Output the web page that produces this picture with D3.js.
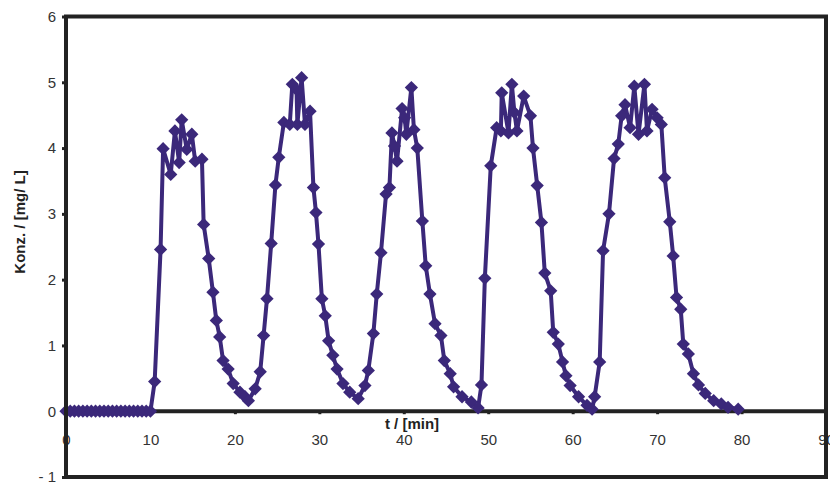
<!DOCTYPE html>
<html>
<head>
<meta charset="utf-8">
<script src="https://cdn.jsdelivr.net/npm/d3@7"></script>
<style>
  body { margin: 0; background: #fff; }
  text { font-family: "Liberation Sans", Arial, sans-serif; }
</style>
</head>
<body>
<div id="chart"></div>
<script>
// time in minutes
const timeMin = [
  0, 0.5, 1, 1.5, 2, 2.5, 3, 3.5, 4, 4.5, 5, 5.5, 6, 6.5, 7, 7.5, 8, 8.5, 9, 9.5, 10,
  10.5, 11.2, 11.5, 12.4, 12.9, 13.4, 13.7, 14.3, 14.9, 15.3, 16.1, 16.3, 16.9, 17.4, 17.8,
  18.2, 18.6, 19.2, 19.8, 20.6, 21.2, 21.6,
  22.4, 23.0, 23.4, 23.8, 24.3, 24.8, 25.2, 25.8, 26.5, 26.8, 27.3, 27.4, 27.9, 28.3, 28.9,
  29.3, 29.6, 29.9, 30.3, 30.7, 31.1, 31.6, 32.1, 32.8, 33.6, 34.6,
  35.4, 35.8, 36.4, 36.8, 37.3, 37.9, 38.3, 38.6, 38.9, 39.2, 39.8, 40.1, 40.3, 40.9, 41.2,
  41.6, 42.2, 42.6, 43.1, 43.7, 44.4, 44.8, 45.5, 45.9, 46.9, 48.0, 48.8,
  49.2, 49.6, 50.3, 51.0, 51.5, 51.6, 52.4, 52.8, 53.1, 53.4, 54.2, 55.0, 55.3, 55.8, 56.3,
  56.7, 57.4, 57.7, 58.3, 58.8, 59.2, 59.7, 60.7, 61.7, 62.3,
  62.6, 63.2, 63.6, 64.3, 64.9, 65.4, 65.8, 66.2, 66.8, 67.3, 67.8, 68.5, 68.8, 69.4, 70.0,
  70.5, 70.9, 71.5, 71.9, 72.3, 72.8, 73.1, 73.7, 74.3, 74.9, 75.7, 76.7, 77.6, 78.4, 79.6
]
// concentration in mg/L
const konz = [
  0, 0, 0, 0, 0, 0, 0, 0, 0, 0, 0, 0, 0, 0, 0, 0, 0, 0, 0, 0, 0,
  0.45, 2.46, 3.99, 3.6, 4.26, 3.78, 4.43, 3.98, 4.21, 3.8, 3.83, 2.84, 2.32, 1.81, 1.38,
  1.13, 0.77, 0.64, 0.42, 0.29, 0.22, 0.16,
  0.34, 0.6, 1.15, 1.71, 2.55, 3.44, 3.86, 4.39, 4.36, 4.97, 4.89, 4.36, 5.07, 4.36, 4.56,
  3.4, 3.02, 2.54, 1.71, 1.45, 1.07, 0.85, 0.64, 0.42, 0.29, 0.19,
  0.39, 0.62, 1.18, 1.78, 2.41, 3.3, 3.4, 4.23, 4.03, 3.8, 4.6, 4.46, 4.21, 4.92, 4.28,
  4.0, 2.89, 2.21, 1.78, 1.33, 1.15, 0.77, 0.57, 0.37, 0.22, 0.14, 0.05,
  0.4, 2.02, 3.73, 4.31, 4.26, 4.84, 4.23, 4.97, 4.54, 4.26, 4.79, 4.49, 4.0, 3.43, 2.87,
  2.1, 1.83, 1.2, 1.02, 0.75, 0.54, 0.39, 0.22, 0.09, 0.03,
  0.22, 0.75, 2.44, 3.0, 3.84, 4.06, 4.49, 4.66, 4.31, 4.94, 4.21, 4.97, 4.26, 4.59, 4.46,
  4.36, 3.55, 2.88, 2.36, 1.73, 1.55, 1.02, 0.87, 0.57, 0.4, 0.27, 0.16, 0.11, 0.06, 0.03
]
const xTicks = [0, 10, 20, 30, 40, 50, 60, 70, 80, 90]
const yTicks = [-1, 0, 1, 2, 3, 4, 5, 6]

const data = timeMin.map((t, i) => ({ t: t, c: konz[i] }))

const WIDTH = 830, HEIGHT = 483
const MARGIN = { LEFT: 66, RIGHT: 4, TOP: 16.5, BOTTOM: 6 }
const COLOR = "#3b287a"

const svg = d3.select("#chart")
  .append("svg")
  .attr("width", WIDTH)
  .attr("height", HEIGHT)

const x = d3.scaleLinear()
  .domain([0, 90])
  .range([MARGIN.LEFT, WIDTH - MARGIN.RIGHT])

const y = d3.scaleLinear()
  .domain([-1, 6])
  .range([HEIGHT - MARGIN.BOTTOM, MARGIN.TOP])

// Y axis ticks + labels
const yAxisCall = d3.axisLeft(y)
  .tickValues(yTicks)
  .tickSize(4)
  .tickPadding(6)
  .tickFormat(d => d < 0 ? "- " + Math.abs(d) : d)
const yAxis = svg.append("g")
  .attr("class", "y axis")
  .attr("transform", `translate(${MARGIN.LEFT}, 0)`)
  .call(yAxisCall)
yAxis.select(".domain").remove()
yAxis.selectAll("line").attr("stroke", "#222").attr("stroke-width", 3)
yAxis.selectAll("text").attr("font-size", "15px").attr("fill", "#333")

// X axis at y = 0, labels below
const xAxisCall = d3.axisBottom(x)
  .tickValues(xTicks)
  .tickSize(3)
  .tickPadding(20)
const xAxis = svg.append("g")
  .attr("class", "x axis")
  .attr("transform", `translate(0, ${y(0)})`)
  .call(xAxisCall)
xAxis.select(".domain").remove()
xAxis.selectAll("line").attr("stroke", "#222").attr("stroke-width", 3)
xAxis.selectAll("text").attr("font-size", "15px").attr("fill", "#333")

// zero line
svg.append("line")
  .attr("x1", x(0)).attr("x2", x(90))
  .attr("y1", y(0)).attr("y2", y(0))
  .attr("stroke", "#222")
  .attr("stroke-width", 4)

// X label
svg.append("text")
  .attr("x", 412)
  .attr("y", 429)
  .attr("font-size", "15px")
  .attr("font-weight", "bold")
  .attr("text-anchor", "middle")
  .attr("fill", "#222")
  .text("t / [min]")

// Y label
svg.append("text")
  .attr("transform", "translate(25, 222) rotate(-90)")
  .attr("font-size", "15px")
  .attr("font-weight", "bold")
  .attr("text-anchor", "middle")
  .attr("fill", "#222")
  .text("Konz. / [mg/ L]")

// series line
const line = d3.line()
  .x(d => x(d.t))
  .y(d => y(d.c))
svg.append("path")
  .datum(data)
  .attr("fill", "none")
  .attr("stroke", COLOR)
  .attr("stroke-width", 4)
  .attr("stroke-linejoin", "round")
  .attr("d", line)

// diamond markers
const diamond = d3.symbol().type(d3.symbolSquare).size(88)
svg.append("g")
  .selectAll("path")
  .data(data)
  .enter().append("path")
  .attr("d", diamond)
  .attr("transform", d => `translate(${x(d.t)}, ${y(d.c)}) rotate(45)`)
  .attr("fill", COLOR)

// frame
svg.append("rect")
  .attr("x", x(0))
  .attr("y", y(6))
  .attr("width", x(90) - x(0))
  .attr("height", y(-1) - y(6))
  .attr("fill", "none")
  .attr("stroke", "#222")
  .attr("stroke-width", 4)
</script>
</body>
</html>
